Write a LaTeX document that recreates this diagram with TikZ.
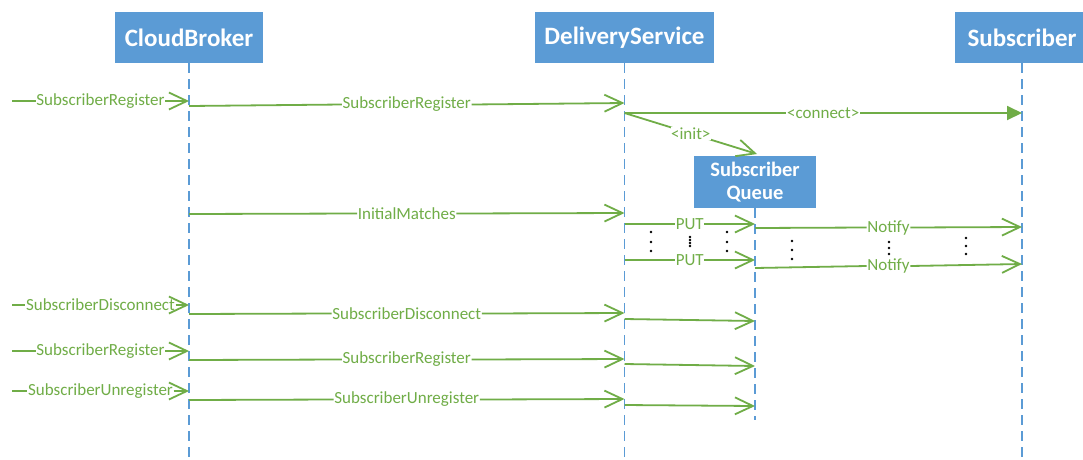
\documentclass[tikz,border=0pt]{standalone}
\usepackage{fontspec}
\setmainfont{Carlito}
\usetikzlibrary{arrows.meta}
\definecolor{boxblue}{RGB}{91,155,213}
\definecolor{msggreen}{RGB}{112,173,71}
% a message whose line is broken by its label: style, from, to, label, label name
\newcommand{\labelledmsg}[5]{%
  \path (#2) -- node[lbl] (#5) {#4} (#3);
  \draw[plain] (#2) -- (#5.west);
  \draw[#1] (#5.east) -- (#3);
}
\begin{document}
\begin{tikzpicture}[x=1pt,y=-1pt,
  actor/.style={fill=boxblue, text=white, inner sep=0pt, align=center,
    font=\fontsize{25}{28}\selectfont\bfseries},
  lifeline/.style={draw=boxblue, line width=1.6pt, dash pattern=on 10pt off 6pt},
  plain/.style={draw=msggreen, line width=1.8pt},
  msg/.style={plain, -{Straight Barb[length=18pt,width=17pt]}},
  create/.style={plain, -{Triangle[length=15pt,width=14pt]}, fill=msggreen},
  lbl/.style={text=msggreen, inner xsep=0.5pt, inner ysep=1pt,
    font=\fontsize{17}{19}\selectfont},
  dot/.style={fill=black}
]
\clip (0,0) rectangle (1083,459);
\fill[white] (0,0) rectangle (1083,459);

% participants
\node[actor, minimum width=148pt, minimum height=51pt] (cb) at (189,37.5) {CloudBroker};
\node[actor, minimum width=179pt, minimum height=51pt] (ds) at (624.5,37.5) {DeliveryService};
\node[actor, minimum width=134pt, minimum height=51pt] (sub) at (1022,37.5) {Subscriber};
\node[actor, minimum width=122pt, minimum height=52pt,
  font=\fontsize{20.5}{23}\selectfont\bfseries] (q) at (755,182) {Subscriber\\Queue};

% lifelines
\coordinate (cbEnd) at (189,459);
\coordinate (dsEnd) at (624.5,459);
\coordinate (subEnd) at (1022,459);
\coordinate (qEnd) at (755,420);
\draw[lifeline] (cb.south) -- (cbEnd);
\draw[lifeline] (ds.south) -- (dsEnd);
\draw[lifeline] (sub.south) -- (subEnd);
\draw[lifeline] (q.south) -- (qEnd);

% endpoints of the messages
\coordinate (in1) at (12,101);   \coordinate (cb1) at (189,101);
\coordinate (cb1o) at (189,106); \coordinate (ds1) at (624.5,103);
\coordinate (ds1o) at (624.5,113); \coordinate (sub1) at (1022,113);
\coordinate (qTop) at (757,154);
\coordinate (cb2) at (189,214);  \coordinate (ds2) at (624.5,213);
\coordinate (ds3) at (624.5,224); \coordinate (q3) at (755,224);
\coordinate (q3o) at (755,228);  \coordinate (sub3) at (1022,227);
\coordinate (ds4) at (624.5,260); \coordinate (q4) at (755,260);
\coordinate (q4o) at (755,268);  \coordinate (sub4) at (1022,264);
\coordinate (in5) at (12,305);   \coordinate (cb5) at (189,305);
\coordinate (cb5o) at (189,314); \coordinate (ds5) at (624.5,313);
\coordinate (ds5o) at (624.5,319); \coordinate (q5) at (755,321);
\coordinate (in6) at (12,351);   \coordinate (cb6) at (189,351);
\coordinate (cb6o) at (189,360); \coordinate (ds6) at (624.5,359);
\coordinate (ds6o) at (624.5,364); \coordinate (q6) at (755,366);
\coordinate (in7) at (12,391);   \coordinate (cb7) at (189,391);
\coordinate (cb7o) at (189,400); \coordinate (ds7) at (624.5,399);
\coordinate (ds7o) at (624.5,405); \coordinate (q7) at (755,406);

% registration and queue creation
\labelledmsg{msg}{in1}{cb1}{SubscriberRegister}{l1}
\labelledmsg{msg}{cb1o}{ds1}{SubscriberRegister}{l2}
\labelledmsg{create}{ds1o}{sub1}{<connect>}{l3}
\draw[msg] (ds1o) -- node[lbl, fill=white] {<init>} (qTop);

% initial matches
\labelledmsg{msg}{cb2}{ds2}{InitialMatches}{l4}
\labelledmsg{msg}{ds3}{q3}{PUT}{l5}
\labelledmsg{msg}{q3o}{sub3}{Notify}{l6}
\labelledmsg{msg}{ds4}{q4}{PUT}{l7}
\labelledmsg{msg}{q4o}{sub4}{Notify}{l8}

% vertical ellipses
\foreach \y in {232,242,251} {
  \fill[dot] (651,\y) circle (1.4pt);
  \fill[dot] (727,\y) circle (1.4pt);
}
\foreach \y in {237,240,243,246} \fill[dot] (690,\y) circle (1.3pt);
\foreach \y in {241,250,259} \fill[dot] (792,\y) circle (1.4pt);
\foreach \y in {242,248,254} \fill[dot] (889,\y) circle (1.4pt);
\foreach \y in {238,246,254} \fill[dot] (966,\y) circle (1.4pt);

% later requests
\labelledmsg{msg}{in5}{cb5}{SubscriberDisconnect}{l9}
\labelledmsg{msg}{cb5o}{ds5}{SubscriberDisconnect}{l10}
\draw[msg] (ds5o) -- (q5);
\labelledmsg{msg}{in6}{cb6}{SubscriberRegister}{l11}
\labelledmsg{msg}{cb6o}{ds6}{SubscriberRegister}{l12}
\draw[msg] (ds6o) -- (q6);
\labelledmsg{msg}{in7}{cb7}{SubscriberUnregister}{l13}
\labelledmsg{msg}{cb7o}{ds7}{SubscriberUnregister}{l14}
\draw[msg] (ds7o) -- (q7);
\end{tikzpicture}
\end{document}
